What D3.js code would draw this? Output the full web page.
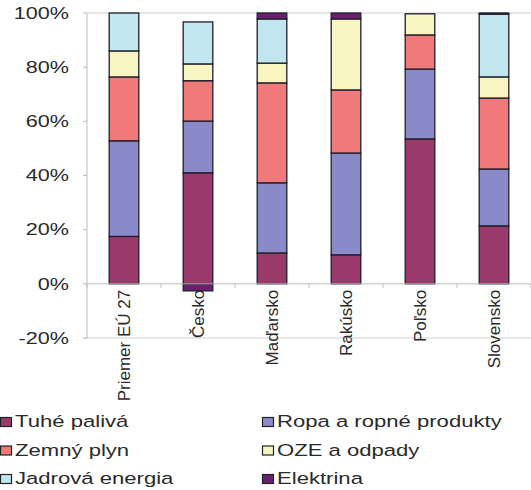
<!DOCTYPE html>
<html>
<head>
<meta charset="utf-8">
<script src="https://cdn.jsdelivr.net/npm/d3@7"></script>
<style>
  html, body { margin: 0; padding: 0; background: #fff; }
  svg { display: block; }
  text { font-family: "Liberation Sans", Arial, sans-serif; fill: #2a2a2a; }
</style>
</head>
<body>
<svg id="chart" width="531" height="490"></svg>
<script>
const categories = ["Priemer EÚ 27", "Česko", "Maďarsko", "Rakúsko", "Poľsko", "Slovensko"];
const seriesNames = ["Tuhé palivá", "Ropa a ropné produkty", "Zemný plyn", "OZE a odpady", "Jadrová energia", "Elektrina"];
const tuhePaliva   = [17.5, 41.0, 11.4, 10.7, 53.5, 21.4];
const ropa         = [35.3, 19.1, 25.9, 37.6, 25.8, 21.0];
const zemnyPlyn    = [23.6, 14.9, 36.9, 23.3, 12.6, 26.2];
const oze          = [9.6,  6.2,  7.3,  26.2, 7.8,  7.8];
const jadrova      = [14.0, 15.5, 16.3, 0,    0,    23.2];
const elektrina    = [0,   -2.6,  2.2,  2.2,  0,    0.4];
const yTicks = [-20, 0, 20, 40, 60, 80, 100];
const colors = ["#993a6a", "#8a8ac8", "#f07a7a", "#f8f5c2", "#c2e6f0", "#6a1f6f"];

const seriesValues = [tuhePaliva, ropa, zemnyPlyn, oze, jadrova, elektrina];
const rows = categories.map((c, i) => {
  const r = { cat: c };
  seriesNames.forEach((s, j) => r[s] = seriesValues[j][i]);
  return r;
});

const svg = d3.select("#chart");
const pLeft = 87, pRight = 531, pTop = 13, pBottom = 338;
const sx = 1.35;

const x = d3.scaleBand().domain(categories).range([pLeft, pRight]).paddingInner(0.6).paddingOuter(0.3);
const y = d3.scaleLinear().domain([-20, 100]).range([pBottom, pTop]);

// plot frame lines (top gridline and bottom)
svg.append("line").attr("x1", pLeft).attr("x2", pRight).attr("y1", y(100)).attr("y2", y(100))
  .attr("stroke", "#cfcfcf").attr("stroke-width", 1);
svg.append("line").attr("x1", pLeft - 4).attr("x2", pRight).attr("y1", y(-20)).attr("y2", y(-20))
  .attr("stroke", "#cfcfcf").attr("stroke-width", 1);

// left axis
svg.append("line").attr("x1", pLeft).attr("x2", pLeft).attr("y1", y(100)).attr("y2", y(-20))
  .attr("stroke", "#bdbdbd").attr("stroke-width", 1);
yTicks.forEach(t => {
  svg.append("line").attr("x1", pLeft - 4).attr("x2", pLeft).attr("y1", y(t)).attr("y2", y(t))
    .attr("stroke", "#bdbdbd");
  svg.append("text")
    .attr("transform", `translate(69,${y(t)}) scale(${sx},1)`)
    .attr("text-anchor", "end").attr("dy", "0.36em")
    .attr("font-size", 16)
    .text(t + "%");
});

// bars
const stack = d3.stack().keys(seriesNames).offset(d3.stackOffsetDiverging);
const stacked = stack(rows);
const g = svg.append("g");
stacked.forEach((layer, j) => {
  g.selectAll(null).data(layer.filter(d => d[1] !== d[0])).enter().append("rect")
    .attr("x", d => x(d.data.cat))
    .attr("width", x.bandwidth())
    .attr("y", d => y(Math.max(d[0], d[1])))
    .attr("height", d => Math.abs(y(d[0]) - y(d[1])))
    .attr("fill", colors[j])
    .attr("stroke", "#1e1e2a").attr("stroke-width", 1.3);
});

// category axis at 0
svg.append("line").attr("x1", pLeft).attr("x2", pRight).attr("y1", y(0)).attr("y2", y(0))
  .attr("stroke", "#bdbdbd");
const step = x.step();
for (let i = 0; i <= categories.length; i++) {
  const tx = pLeft + i * step;
  svg.append("line").attr("x1", tx).attr("x2", tx).attr("y1", y(0)).attr("y2", y(0) + 4)
    .attr("stroke", "#bdbdbd");
}
categories.forEach(c => {
  const cx = x(c) + x.bandwidth() / 2;
  svg.append("text")
    .attr("transform", `translate(${cx},${y(0) + 6}) rotate(-90)`)
    .attr("text-anchor", "end").attr("dy", "0.36em")
    .attr("font-size", 17)
    .text(c);
});

// legend
const legendPos = [
  [0, 0], [262, 0],
  [0, 1], [262, 1],
  [0, 2], [262, 2]
];
seriesNames.forEach((s, j) => {
  const [lx, row] = legendPos[j];
  const by = 427 + row * 28.5;
  svg.append("rect").attr("x", lx + 0.5).attr("y", by - 9.5).attr("width", 11).attr("height", 9)
    .attr("fill", colors[j]).attr("stroke", "#222").attr("stroke-width", 1.2);
  svg.append("text")
    .attr("transform", `translate(${lx + 15},${by}) scale(${1.3},1)`)
    .attr("font-size", 17)
    .text(s);
});
</script>
</body>
</html>
